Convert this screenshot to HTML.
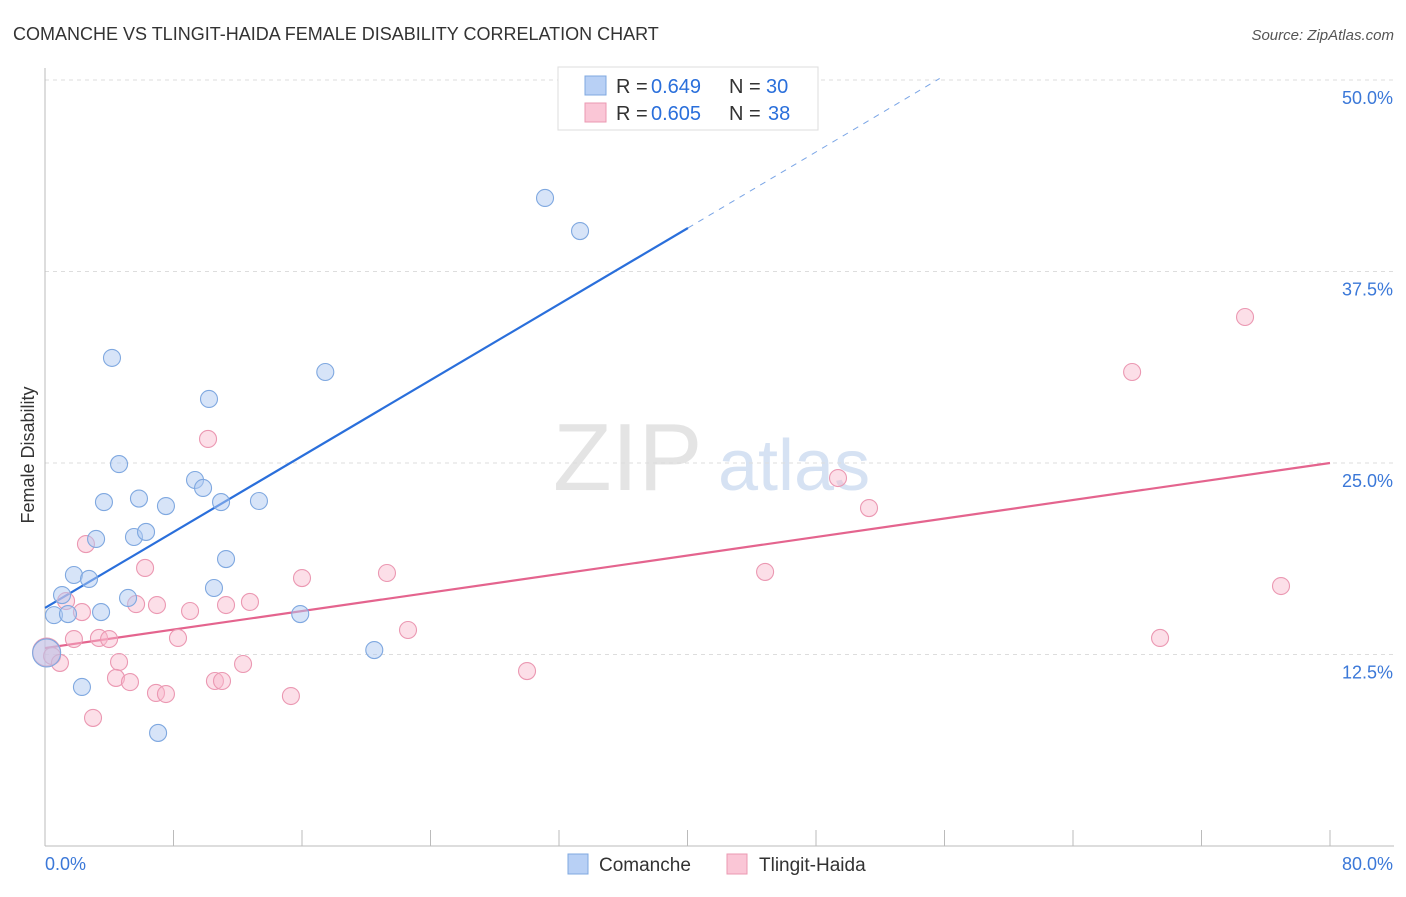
<!DOCTYPE html>
<html><head><meta charset="utf-8"><style>
body{margin:0;background:#fff;font-family:"Liberation Sans",sans-serif;}
svg text{font-family:"Liberation Sans",sans-serif;}
</style></head><body>
<svg id="chart" width="1406" height="892" xmlns="http://www.w3.org/2000/svg">
<text x="13" y="40" font-size="18" fill="#333">COMANCHE VS TLINGIT-HAIDA FEMALE DISABILITY CORRELATION CHART</text>
<text x="1394" y="40" font-size="15" fill="#555" text-anchor="end" font-style="italic">Source: ZipAtlas.com</text>
<g><text x="553" y="490" font-size="96" fill="#e4e4e4" font-family="Liberation Serif">ZIP</text><text x="718" y="490" font-size="72" fill="#d6e2f3">atlas</text></g>
<g id="grid"></g>
<g id="axes"></g>
<text transform="translate(34,455) rotate(-90)" font-size="18" fill="#333" text-anchor="middle">Female Disability</text>
<g id="lines"></g>
<g id="points"></g>
<g>
<rect x="558" y="67" width="260" height="63" fill="#fff" stroke="#ddd"/>
<rect x="585" y="76" width="21" height="19" fill="#b8d0f5" stroke="#7fa8e0"/>
<rect x="585" y="103" width="21" height="19" fill="#fac6d6" stroke="#eb98b2"/>
<text x="616" y="93" font-size="20" fill="#333">R =</text><text x="651" y="93" font-size="20" fill="#2a6fdb">0.649</text>
<text x="729" y="93" font-size="20" fill="#333">N =</text><text x="766" y="93" font-size="20" fill="#2a6fdb">30</text>
<text x="616" y="120" font-size="20" fill="#333">R =</text><text x="651" y="120" font-size="20" fill="#2a6fdb">0.605</text>
<text x="729" y="120" font-size="20" fill="#333">N =</text><text x="768" y="120" font-size="20" fill="#2a6fdb">38</text>
</g>
<g>
<rect x="568" y="854" width="20" height="20" fill="#b8d0f5" stroke="#7fa8e0"/>
<text x="599" y="871" font-size="19" fill="#333">Comanche</text>
<rect x="727" y="854" width="20" height="20" fill="#fac6d6" stroke="#eb98b2"/>
<text x="759" y="871" font-size="19" fill="#333">Tlingit-Haida</text>
</g>
</svg>
<script>
const yTicks=[12.5,25,37.5,50];
const yTickLabels=["12.5%","25.0%","37.5%","50.0%"];
const xTicks=[0,8,16,24,32,40,48,56,64,72,80];
const blueX=[0.1,0.56,1.06,1.43,1.8,2.3,2.74,3.18,3.49,3.67,4.17,4.61,5.17,5.54,5.85,6.29,7.04,7.53,9.34,9.84,10.21,10.52,10.96,11.27,13.32,15.89,17.45,20.5,31.13,33.31];
const blueY=[12.6,15.07,16.38,15.14,17.69,10.38,17.43,20.04,15.27,22.45,31.86,24.93,16.19,20.17,22.68,20.5,7.38,22.19,23.89,23.37,29.18,16.84,22.45,18.73,22.52,15.14,30.94,12.79,42.3,40.14];
const pinkX=[0.1,0.44,0.93,1.31,1.8,2.3,2.55,2.99,3.36,3.99,4.61,4.42,5.29,5.67,6.23,6.91,6.97,7.53,8.28,9.03,10.15,10.58,11.02,11.27,12.33,12.76,15.31,16.0,21.29,22.6,30.01,44.83,49.37,51.3,67.68,69.42,74.71,76.95];
const pinkY=[12.66,12.4,11.95,15.99,13.51,15.27,19.71,8.36,13.58,13.51,12.01,10.97,10.7,15.79,18.15,9.99,15.73,9.92,13.58,15.34,26.57,10.77,10.77,15.73,11.88,15.93,9.79,17.49,17.82,14.1,11.42,17.89,24.02,22.06,30.94,13.58,34.53,16.97];
const blueLine=[[0,15.54],[40.03,40.34]];
const blueDash=[[40.03,40.34],[55.7,50.1]];
const pinkLine=[[0,12.92],[80,25.0]];
const X=v=>45+v*1285/80, Y=v=>846-v*15.32;
const NS="http://www.w3.org/2000/svg";
function mk(tag,attrs,parent){const e=document.createElementNS(NS,tag);for(const k in attrs)e.setAttribute(k,attrs[k]);parent.appendChild(e);return e;}
const grid=document.getElementById('grid'),axes=document.getElementById('axes');
yTicks.forEach((t,i)=>{
 const l=mk('line',{x1:45,x2:1394,y1:Y(t),y2:Y(t),stroke:'#ddd','stroke-dasharray':'4,4'},grid);
 
 
 const tx=mk('text',{x:1393,y:Y(t)+24,'font-size':18,fill:'#3b78d8','text-anchor':'end'},axes);
 tx.textContent=yTickLabels[i];
 
 
});
mk('line',{x1:45,x2:45,y1:68,y2:846,stroke:'#bbb'},axes);
mk('line',{x1:45,x2:1394,y1:846,y2:846,stroke:'#bbb'},axes);
xTicks.forEach(t=>{const l=mk('line',{x1:X(t),x2:X(t),y1:830,y2:846,stroke:'#bbb'},axes);
 
 });
let a=mk('text',{x:45,y:870,'font-size':18,fill:'#3b78d8'},axes);a.textContent='0.0%';


a=mk('text',{x:1393,y:870,'font-size':18,fill:'#3b78d8','text-anchor':'end'},axes);a.textContent='80.0%';


const lines=document.getElementById('lines');
let ln=mk('line',{x1:X(blueLine[0][0]),y1:Y(blueLine[0][1]),x2:X(blueLine[1][0]),y2:Y(blueLine[1][1]),stroke:'#2a6fdb','stroke-width':2.2},lines);


ln=mk('line',{x1:X(blueDash[0][0]),y1:Y(blueDash[0][1]),x2:X(blueDash[1][0]),y2:Y(blueDash[1][1]),stroke:'#7aa5e6','stroke-width':1,'stroke-dasharray':'6,6'},lines);


ln=mk('line',{x1:X(pinkLine[0][0]),y1:Y(pinkLine[0][1]),x2:X(pinkLine[1][0]),y2:Y(pinkLine[1][1]),stroke:'#e4648e','stroke-width':2.2},lines);


const pts=document.getElementById('points');
pinkX.forEach((x,i)=>{const c=mk('circle',{cx:X(x),cy:Y(pinkY[i]),r:i==0?14:8.5,fill:'rgba(248,184,204,0.45)',stroke:'#eb98b2','stroke-width':1.1},pts);
 
 });
blueX.forEach((x,i)=>{const c=mk('circle',{cx:X(x),cy:Y(blueY[i]),r:i==0?14:8.5,fill:'rgba(176,202,242,0.5)',stroke:'#7fa8e0','stroke-width':1.1},pts);
 
 });
</script>
</body></html>
